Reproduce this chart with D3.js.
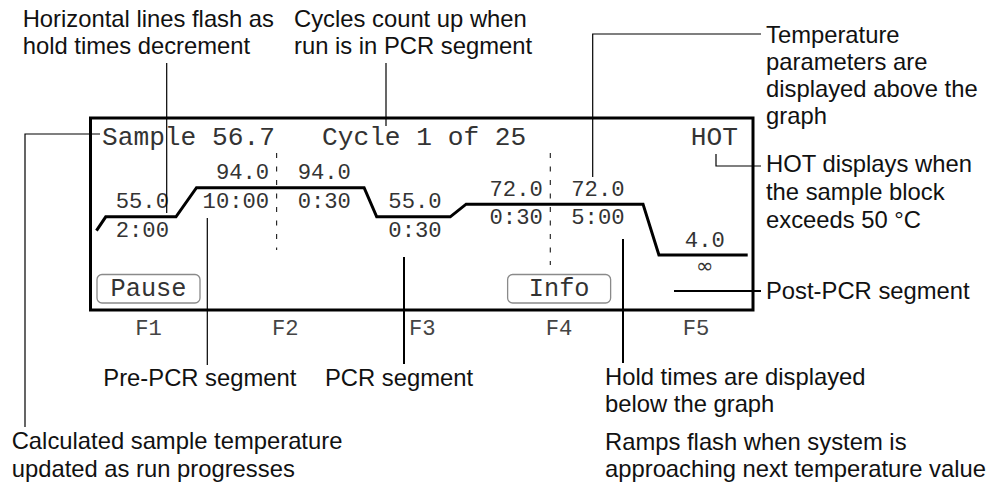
<!DOCTYPE html>
<html>
<head>
<meta charset="utf-8">
<script src="https://cdn.jsdelivr.net/npm/d3@7"></script>
<style>
  body { margin: 0; background: #fff; }
  .note { font-family: "Liberation Sans", Arial, sans-serif; font-size: 23.8px; fill: #111; }
  .lcd { font-family: "Liberation Mono", "Courier New", monospace; fill: #333; }
  .leader { stroke: #000; fill: none; }
</style>
</head>
<body>
<div id="chart"></div>
<script>
// what the screen shows
var sampleTemp = 56.7;
var cycleNow = 1;
var cycleTotal = 25;
var hotFlag = "HOT";

// soft keys under the screen
var softKeys = ["F1", "F2", "F3", "F4", "F5"];
var buttonKeys = ["F1", "F4"];
var buttonNames = ["Pause", "Info"];

// run profile, positions in screen units (0..100 across the graph)
var startPos = 0.9;
var startTemp = 36.5;
var holdTemps = [55.0, 94.0, 94.0, 55.0, 72.0, 72.0, 4.0];
var holdTimes = ["2:00", "10:00", "0:30", "0:30", "0:30", "5:00", "\u221e"];
var holdStart = [2.3, 16.0, 28.1, 43.2, 56.7, 69.4, 85.8];
var holdEnd = [12.9, 28.1, 41.3, 54.3, 69.4, 83.4, 99.2];
var segmentBreaks = [28.1, 69.4];

// callout texts
var notes = [
    ["Horizontal lines flash as", "hold times decrement"],
    ["Cycles count up when", "run is in PCR segment"],
    ["Temperature", "parameters are", "displayed above the", "graph"],
    ["HOT displays when", "the sample block", "exceeds 50 \u00b0C"],
    ["Post-PCR segment"],
    ["Calculated sample temperature", "updated as run progresses"],
    ["Pre-PCR segment"],
    ["PCR segment"],
    ["Hold times are displayed", "below the graph"],
    ["Ramps flash when system is", "approaching next temperature value"]
];

// where each callout sits and its leader line
var noteLayout = [
    {x: 22.7, y: 26.7, gap: 27.3, w: 1.2, path: [[166.7, 63], [166.7, 213]]},
    {x: 294, y: 26.7, gap: 27.3, w: 1.2, path: [[386, 63], [386, 126]]},
    {x: 766, y: 42.5, gap: 27, w: 1.2, path: [[761, 34], [592.7, 34], [592.7, 177]]},
    {x: 766, y: 172, gap: 28, w: 1.2, path: [[716, 154], [716, 166], [761, 166]]},
    {x: 766, y: 299, gap: 27, w: 2, path: [[674, 291], [761, 291]]},
    {x: 11.7, y: 449, gap: 28, w: 1.2, path: [[100, 134], [25, 134], [25, 427]]},
    {x: 103.3, y: 386, gap: 27, w: 1.2, path: [[207.3, 218], [207.3, 365]]},
    {x: 325, y: 386, gap: 27, w: 2, path: [[404, 257], [404, 364]]},
    {x: 605, y: 385, gap: 27, w: 2, path: [[623, 239], [623, 363]]},
    {x: 605, y: 450, gap: 27, w: 1.2, path: null}
];

/**
 * Constructor for the thermal cycler run screen
 */
function RunScreen(){
    var self = this;
    self.init();
};

RunScreen.prototype.init = function(){
    var self = this;

    self.svg = d3.select("#chart").append("svg")
        .attr("width", 998)
        .attr("height", 487);

    self.box = {left: 90.5, top: 118, right: 753, bottom: 310};

    // screen units across, degrees up
    self.xScale = d3.scaleLinear().domain([0, 100]).range([self.box.left, self.box.right]);
    self.yScale = d3.scaleLinear().domain([0, 100]).range([258, 183.2]);
    self.keyScale = d3.scalePoint().domain(softKeys).range([148.5, 696]);
};

RunScreen.prototype.update = function(){
    var self = this;
    var svg = self.svg;
    var box = self.box;
    var x = self.xScale, y = self.yScale;

    //screen frame
    svg.append("rect")
        .attr("x", box.left).attr("y", box.top)
        .attr("width", box.right - box.left)
        .attr("height", box.bottom - box.top)
        .attr("fill", "none")
        .attr("stroke", "#000")
        .attr("stroke-width", 3);

    //status row
    svg.append("text").attr("class", "lcd")
        .attr("x", 102).attr("y", 145)
        .style("font-size", "26.2px")
        .text("Sample " + d3.format(".1f")(sampleTemp));
    svg.append("text").attr("class", "lcd")
        .attr("x", 322).attr("y", 145)
        .style("font-size", "26.2px")
        .text("Cycle " + cycleNow + " of " + cycleTotal);
    svg.append("text").attr("class", "lcd")
        .attr("x", 738).attr("y", 145)
        .attr("text-anchor", "end")
        .style("font-size", "26.2px")
        .text(hotFlag);

    //segment dividers
    var breakBottoms = [250, 265];
    svg.selectAll(".divider")
        .data(segmentBreaks)
        .enter()
        .append("line")
        .attr("class", "divider")
        .attr("x1", function(d){ return x(d); })
        .attr("x2", function(d){ return x(d); })
        .attr("y1", 153)
        .attr("y2", function(d, i){ return breakBottoms[i]; })
        .attr("stroke", "#000")
        .attr("stroke-width", 1)
        .attr("stroke-dasharray", "5,8.5");

    //temperature profile
    var points = [[startPos, startTemp]];
    holdTemps.forEach(function(t, i){
        points.push([holdStart[i], t]);
        points.push([holdEnd[i], t]);
    });
    var line = d3.line()
        .x(function(d){ return x(d[0]); })
        .y(function(d){ return y(d[1]); });
    svg.append("path")
        .attr("d", line(points))
        .attr("fill", "none")
        .attr("stroke", "#000")
        .attr("stroke-width", 3)
        .attr("stroke-linejoin", "miter");

    //labels above and below each hold
    var holds = holdTemps.map(function(t, i){
        var d = {temp: t, time: holdTimes[i]};
        if (segmentBreaks.indexOf(holdEnd[i]) >= 0) {
            d.anchor = "end";
            d.x = x(holdEnd[i]) - 7.5;
        }
        else if (segmentBreaks.indexOf(holdStart[i]) >= 0) {
            d.anchor = "start";
            d.x = x(holdStart[i]) + 21;
        }
        else {
            d.anchor = "middle";
            d.x = (x(holdStart[i]) + x(holdEnd[i])) / 2 + 1.5;
        }
        return d;
    });

    svg.selectAll(".tempLabel")
        .data(holds)
        .enter()
        .append("text")
        .attr("class", "lcd tempLabel")
        .attr("x", function(d){ return d.x; })
        .attr("y", function(d){ return y(d.temp) - 8.5; })
        .attr("text-anchor", function(d){ return d.anchor; })
        .style("font-size", "22.2px")
        .text(function(d){ return d3.format(".1f")(d.temp); });

    svg.selectAll(".timeLabel")
        .data(holds)
        .enter()
        .append("text")
        .attr("class", "lcd timeLabel")
        .attr("x", function(d){ return d.x; })
        .attr("y", function(d){ return y(d.temp) + (d.time == "\u221e" ? 18 : 20); })
        .attr("text-anchor", function(d){ return d.anchor; })
        .style("font-size", function(d){ return d.time == "\u221e" ? "21px" : "22.2px"; })
        .style("font-family", function(d){ return d.time == "\u221e" ? "'DejaVu Sans'" : null; })
        .text(function(d){ return d.time; });

    //on-screen buttons
    var buttons = svg.selectAll(".button")
        .data(buttonKeys)
        .enter()
        .append("g")
        .attr("class", "button")
        .attr("transform", function(d){ return "translate(" + self.keyScale(d) + ",0)"; });
    buttons.append("rect")
        .attr("x", -51.5).attr("y", 274.5)
        .attr("width", 103).attr("height", 28.5)
        .attr("rx", 5)
        .attr("fill", "#fff")
        .attr("stroke", "#8a8a8a")
        .attr("stroke-width", 1.3);
    buttons.append("text")
        .attr("class", "lcd")
        .attr("y", 296)
        .attr("text-anchor", "middle")
        .style("font-size", "25.3px")
        .text(function(d, i){ return buttonNames[i]; });

    //soft key names
    svg.selectAll(".key")
        .data(softKeys)
        .enter()
        .append("text")
        .attr("class", "lcd key")
        .attr("x", function(d){ return self.keyScale(d); })
        .attr("y", 335)
        .attr("text-anchor", "middle")
        .style("font-size", "22.2px")
        .style("fill", "#444")
        .text(function(d){ return d; });

    //callouts
    notes.forEach(function(lines, i){
        var lay = noteLayout[i];
        if (lay.path) {
            svg.append("path")
                .attr("class", "leader")
                .attr("d", d3.line()(lay.path))
                .attr("stroke-width", lay.w);
        }
        svg.append("text")
            .attr("class", "note")
            .selectAll("tspan")
            .data(lines)
            .enter()
            .append("tspan")
            .attr("x", lay.x)
            .attr("y", function(d, j){ return lay.y + j * lay.gap; })
            .text(function(d){ return d; });
    });
};

var screen = new RunScreen();
screen.update();
</script>
</body>
</html>
